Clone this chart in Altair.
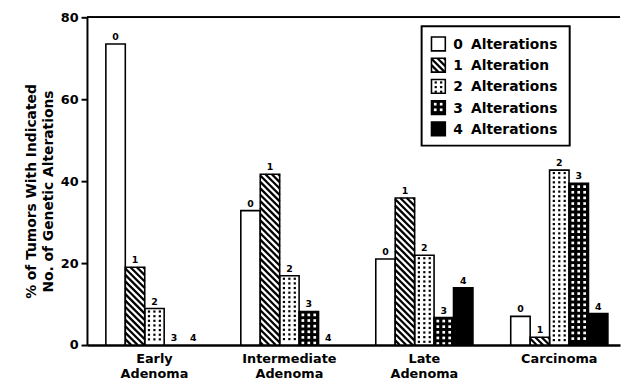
import altair as alt
import pandas as pd
import numpy as np

# ---------------- data ----------------
stages = ["Early\nAdenoma", "Intermediate\nAdenoma", "Late\nAdenoma", "Carcinoma"]
n_alterations = ["0", "1", "2", "3", "4"]
legend_words = ["Alterations", "Alteration", "Alterations", "Alterations", "Alterations"]
early = [73.5, 19.0, 8.9, 0.0, 0.0]
intermediate = [32.8, 41.7, 16.9, 8.2, 0.0]
late = [21.0, 35.9, 21.9, 6.7, 14.0]
carcinoma = [7.0, 1.9, 42.7, 39.5, 7.7]
y_ticks = [0, 20, 40, 60, 80]
y_title = ["% of Tumors With Indicated", "No. of Genetic Alterations"]

# ---------------- layout ----------------
W, H = 540, 332
XMAX, YMAX = 3.95, 80
KX, KY = W / XMAX, H / YMAX
BW = 0.144  # bar width in group units
FONT = "DejaVu Sans"

series = [early, intermediate, late, carcinoma]


def hatch(w, h, d=6.5):
    segs = []
    for c in np.arange(-w + 1.5, h, d):
        xa, xb = max(0.0, -c), min(w, h - c)
        if xb - xa > 0.4:
            segs.append((xa, xa + c, xb, xb + c))
    return segs


def dots(w, h, sx, sy, ox, oy):
    pts = []
    y = oy
    while y < h - 1.4:
        x = ox
        while x < w - 1.4:
            pts.append((x, y))
            x += sx
        y += sy
    return pts


def pattern_items(k, w, h):
    """local pixel items (y downward) for pattern k"""
    segs, pts = [], []
    if k == 1:
        segs = hatch(w, h)
    elif k == 2:
        pts = [(x, y, "b") for x, y in dots(w, h, 5.5, 4.7, 4.3, 3.0)]
    elif k == 3:
        pts = [(x, y, "w") for x, y in dots(w, h, 6.0, 5.7, 3.8, 3.5)]
    return segs, pts


boxes, rules, points, labels = [], [], [], []

# bars
for i, vals in enumerate(series):
    xc = i + 0.5
    for k, v in enumerate(vals):
        left = xc - 2.5 * BW + k * BW
        right = left + BW
        labels.append({"x": left + BW / 2, "y": v, "t": n_alterations[k]})
        if v <= 0:
            continue
        boxes.append({"x": left, "x2": right, "y": 0, "y2": v, "k": n_alterations[k]})
        segs, pts = pattern_items(k, BW * KX, v * KY)
        for (xa, ya, xb, yb) in segs:
            rules.append({"x": left + xa / KX, "y": v - ya / KY,
                          "x2": left + xb / KX, "y2": v - yb / KY})
        for (px, py, c) in pts:
            points.append({"x": left + px / KX, "y": v - py / KY, "c": c})

# legend (pixel layout relative to the plot origin)
LEG_X0, LEG_X1, LEG_Y0, LEG_Y1 = 339, 489, 9, 130
SYM_X, SYM = 349, 14
ROW0, ROWD = 27, 21.5
legend_rows = []
for k, (num, word) in enumerate(zip(n_alterations, legend_words)):
    cy = ROW0 + k * ROWD
    top = cy - SYM / 2
    boxes.append({"x": SYM_X / KX, "x2": (SYM_X + SYM) / KX,
                  "y": YMAX - top / KY, "y2": YMAX - (top + SYM) / KY, "k": num})
    segs, pts = pattern_items(k, SYM, SYM)
    for (xa, ya, xb, yb) in segs:
        rules.append({"x": (SYM_X + xa) / KX, "y": YMAX - (top + ya) / KY,
                      "x2": (SYM_X + xb) / KX, "y2": YMAX - (top + yb) / KY})
    for (px, py, c) in pts:
        points.append({"x": (SYM_X + px) / KX, "y": YMAX - (top + py) / KY, "c": c})
    legend_rows.append({"xn": 371 / KX, "xw": 389 / KX, "y": YMAX - cy / KY,
                        "num": num, "word": word})

boxes_df = pd.DataFrame(boxes)
rules_df = pd.DataFrame(rules)
points_df = pd.DataFrame(points)
labels_df = pd.DataFrame(labels)
legend_df = pd.DataFrame(legend_rows)
legend_box_df = pd.DataFrame([{"x": LEG_X0 / KX, "x2": LEG_X1 / KX,
                               "y": YMAX - LEG_Y0 / KY, "y2": YMAX - LEG_Y1 / KY}])
stage_df = pd.DataFrame({"x": [i + 0.5 for i in range(len(stages))], "stage": stages})

xs = alt.Scale(domain=[0, XMAX], nice=False, zero=False)
ys = alt.Scale(domain=[0, YMAX], nice=False)

ax_x = alt.Axis(labels=False, ticks=False, title=None, grid=False,
                domainColor="black", domainWidth=2.5)
ax_y = alt.Axis(values=y_ticks, grid=False, title=y_title,
                domainColor="black", domainWidth=2,
                tickColor="black", tickWidth=2, tickSize=6,
                labelFont=FONT, labelFontWeight="bold", labelFontSize=13,
                labelColor="black", labelPadding=3,
                titleFont=FONT, titleFontWeight="bold", titleFontSize=14,
                titleColor="black", titleAngle=270, titleX=-52, titleY=176,
                titleBaseline="alphabetic", titleLineHeight=17)


def X(f):
    return alt.X(f, scale=xs, axis=ax_x)


def Y(f):
    return alt.Y(f, scale=ys, axis=ax_y)


fill_scale = alt.Scale(domain=n_alterations,
                       range=["white", "white", "white", "black", "black"])

legend_box = alt.Chart(legend_box_df).mark_rect(
    fill="white", stroke="black", strokeWidth=2).encode(
    x=X("x:Q"), x2="x2:Q", y=Y("y:Q"), y2="y2:Q")

fills = alt.Chart(boxes_df).mark_rect(strokeWidth=0).encode(
    x=X("x:Q"), x2="x2:Q", y=Y("y:Q"), y2="y2:Q",
    fill=alt.Fill("k:N", scale=fill_scale, legend=None),
)

hatch_layer = alt.Chart(rules_df).mark_rule(
    color="black", strokeWidth=2.3, strokeCap="butt").encode(
    x=X("x:Q"), x2="x2:Q", y=Y("y:Q"), y2="y2:Q")

dot_layer = alt.Chart(points_df).mark_square(opacity=1, strokeWidth=0).encode(
    x=X("x:Q"), y=Y("y:Q"),
    color=alt.Color("c:N", scale=alt.Scale(domain=["b", "w"], range=["black", "white"]),
                    legend=None),
    size=alt.Size("c:N", scale=alt.Scale(domain=["b", "w"], range=[5, 7.5]), legend=None),
)

outline = alt.Chart(boxes_df).mark_rect(
    fillOpacity=0, stroke="black", strokeWidth=1.6).encode(
    x=X("x:Q"), x2="x2:Q", y=Y("y:Q"), y2="y2:Q")

bar_labels = alt.Chart(labels_df).mark_text(
    font=FONT, fontWeight="bold", fontSize=9.5, color="black",
    baseline="alphabetic", dy=-4).encode(
    x=X("x:Q"), y=Y("y:Q"), text="t:N")

leg_num = alt.Chart(legend_df).mark_text(
    font=FONT, fontWeight="bold", fontSize=14, color="black",
    align="left", baseline="middle", dy=1).encode(
    x=X("xn:Q"), y=Y("y:Q"), text="num:N")

leg_word = alt.Chart(legend_df).mark_text(
    font=FONT, fontWeight="bold", fontSize=14, color="black",
    align="left", baseline="middle", dy=1).encode(
    x=X("xw:Q"), y=Y("y:Q"), text="word:N")

stage_labels = alt.Chart(stage_df).mark_text(
    font=FONT, fontWeight="bold", fontSize=13, color="black",
    baseline="alphabetic", lineBreak="\n", lineHeight=15).encode(
    x=X("x:Q"), y=alt.value(350), text="stage:N")

top_rule = alt.Chart(stage_df).mark_rule(color="black", strokeWidth=1.5).encode(
    x=alt.datum(0, scale=xs, axis=ax_x), x2=alt.datum(XMAX),
    y=alt.datum(YMAX, scale=ys, axis=ax_y))

chart = alt.layer(
    legend_box, fills, hatch_layer, dot_layer, outline, bar_labels, stage_labels,
    top_rule, leg_num, leg_word,
).properties(
    width=W, height=H,
    autosize=alt.AutoSizeParams(type="none"),
    padding={"left": 80, "top": 7, "right": 3, "bottom": 33},
).configure_view(stroke=None)

chart.save("out.html", embed_options={"renderer": "svg", "actions": False})
